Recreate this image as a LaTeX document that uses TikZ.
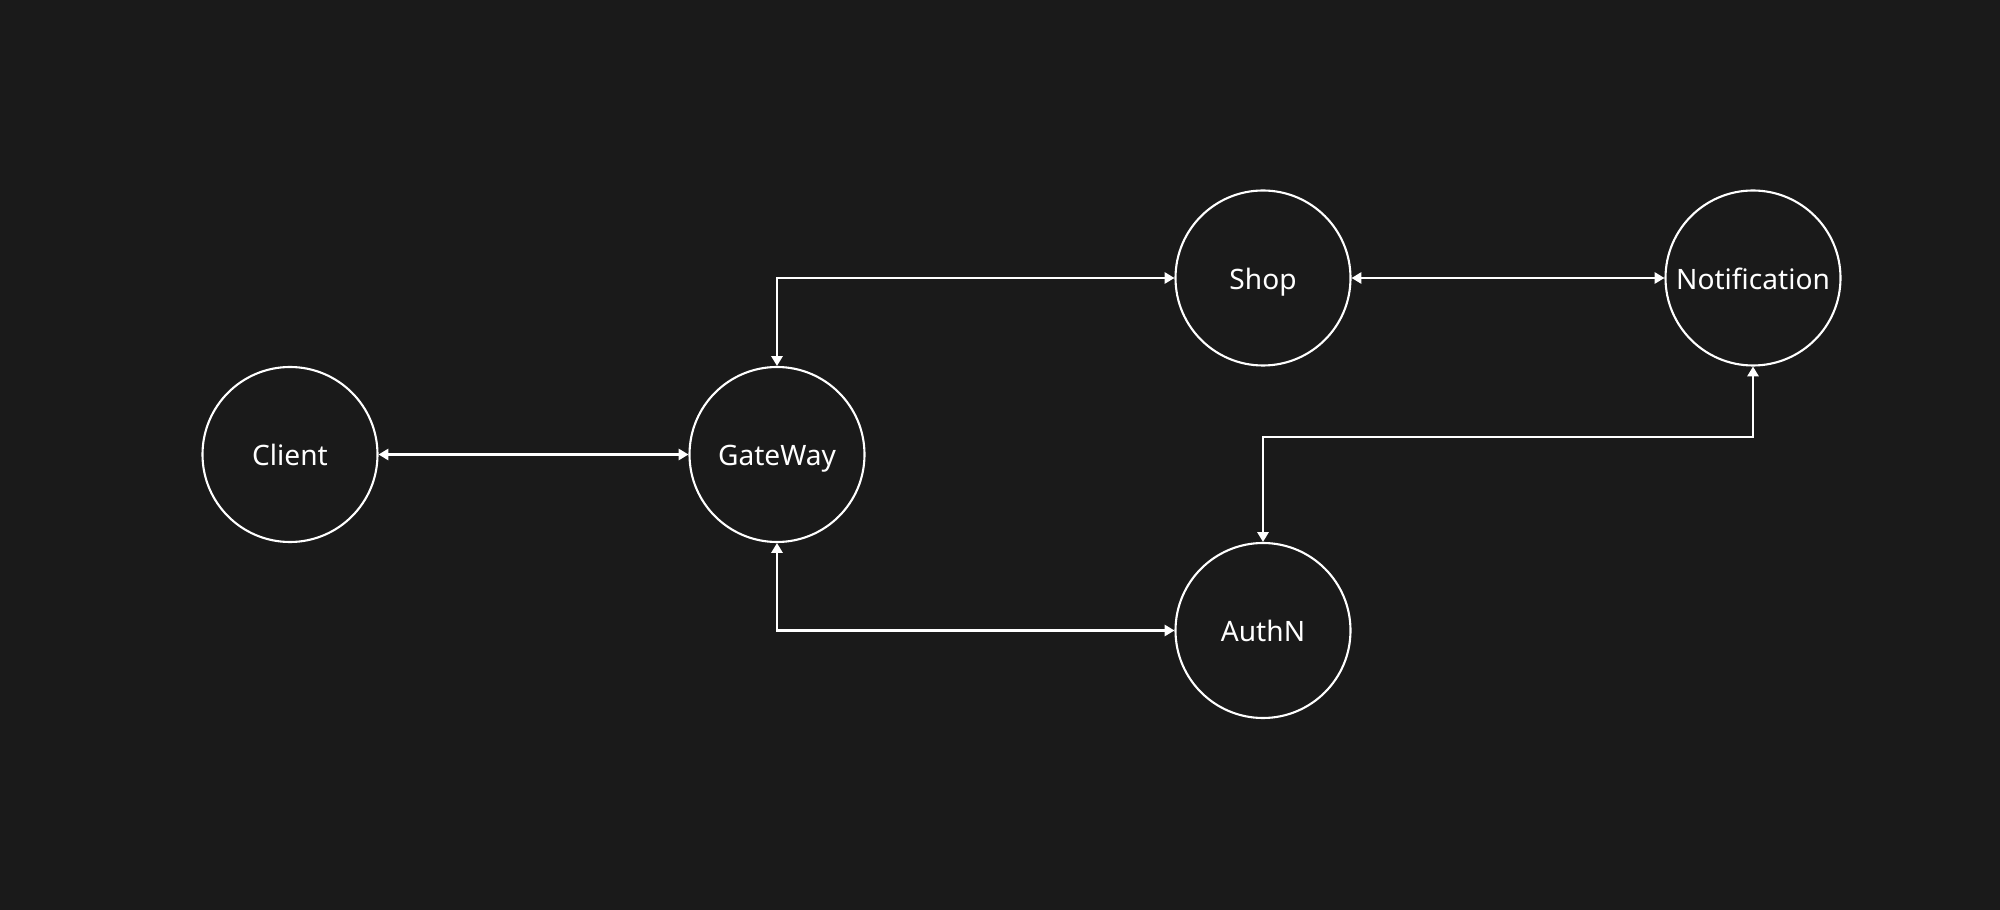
\documentclass[tikz,border=0pt]{standalone}
\usepackage{fontspec}
\setmainfont{Noto Sans}
\usepackage{tikz}
\usetikzlibrary{positioning,arrows.meta}
\usepackage{xcolor}
\definecolor{canvas}{HTML}{1A1A1A}

\begin{document}
\begin{tikzpicture}[
  svc/.style={circle,draw=white,line width=0.6pt,minimum size=1.75cm,inner sep=0pt,text=white,text height=1.55ex,text depth=0.35ex,font=\fontsize{8}{9.6}\selectfont},
  link/.style={draw=white,line width=0.6pt,{Triangle[length=2.8pt,width=3.2pt]}-{Triangle[length=2.8pt,width=3.2pt]}}]
\useasboundingbox (0,0) rectangle (20,9.09);
\fill[canvas] (-0.1,-0.1) rectangle (20.1,9.19);
\node[svc] (client) at (2.90,4.545) {Client};
\node[svc] (gw) at (7.77,4.545) {GateWay};
\node[svc] (shop) at (12.63,6.31) {Shop};
\node[svc] (notif) at (17.53,6.31) {Notification};
\node[svc] (authn) at (12.63,2.785) {AuthN};
\draw[link] (client) -- (gw);
\draw[link] (gw.north) |- (shop.west);
\draw[link] (gw.south) |- (authn.west);
\draw[link] (shop) -- (notif);
\draw[link] (authn.north) -- ++(0,1.05) -| (notif.south);
\end{tikzpicture}
\end{document}
